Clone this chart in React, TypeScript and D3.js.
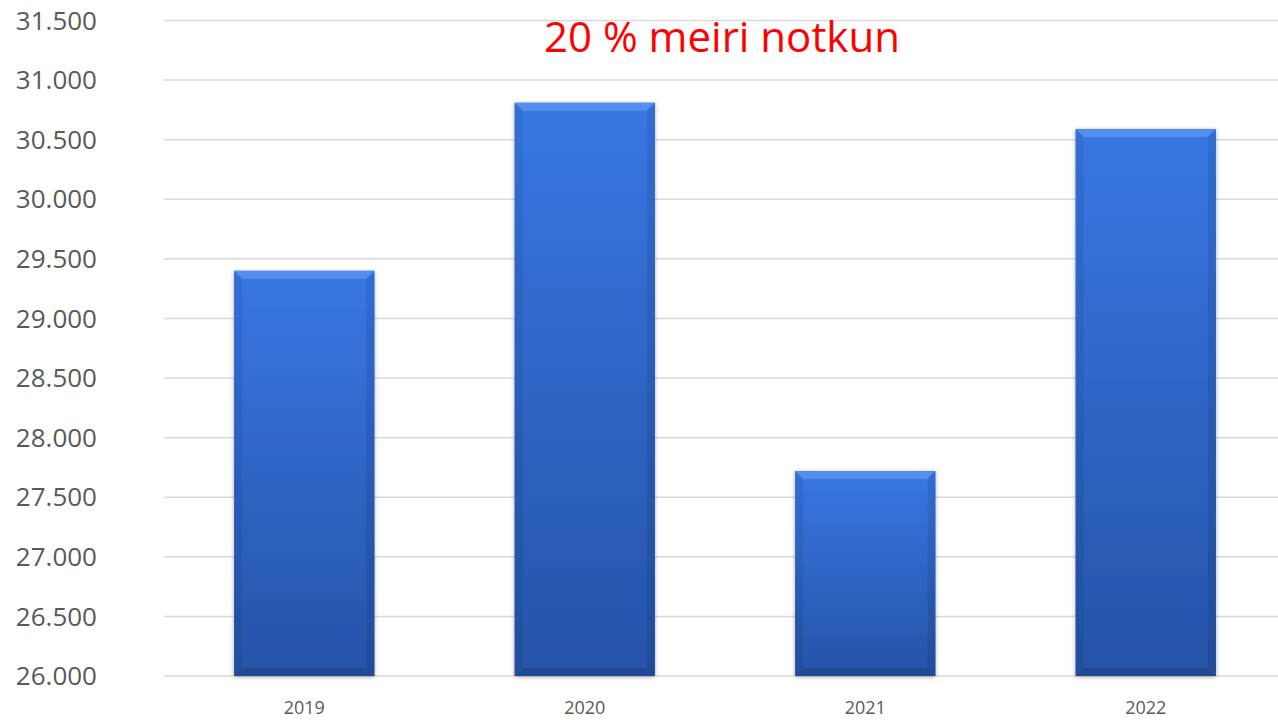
import React from "react";
import * as d3 from "d3";

const years = ["2019", "2020", "2021", "2022"];
const values = [29400, 30810, 27720, 30590];
const yTicks = [26000, 26500, 27000, 27500, 28000, 28500, 29000, 29500, 30000, 30500, 31000, 31500];
const title = "20 % meiri notkun";

const W = 1278;
const H = 720;

export default function App() {
  const x = d3.scaleBand<string>().domain(years).range([164, 1286]).paddingInner(0.5).paddingOuter(0.25);
  const y = d3.scaleLinear().domain([26000, 31500]).range([676, 20.5]);
  const fmt = (v: number) => d3.format(",")(v).replace(/,/g, ".");
  const bw = x.bandwidth();
  const bev = 8;
  return (
    <svg width={W} height={H} style={{ position: "absolute", left: 0, top: 0, background: "#fff" }}>
      <defs>
        <linearGradient id="barG" x1="0" y1="0" x2="0" y2="1">
          <stop offset="0%" stopColor="#3877e2" />
          <stop offset="100%" stopColor="#2553a8" />
        </linearGradient>
        <linearGradient id="sideL" x1="0" y1="0" x2="0" y2="1">
          <stop offset="0%" stopColor="#3068cc" />
          <stop offset="100%" stopColor="#1f4891" />
        </linearGradient>
        <filter id="sh" x="-10%" y="-10%" width="120%" height="120%">
          <feGaussianBlur in="SourceAlpha" stdDeviation="2" />
          <feOffset dx="0" dy="1" result="b" />
          <feComponentTransfer><feFuncA type="linear" slope="0.35" /></feComponentTransfer>
          <feMerge><feMergeNode /><feMergeNode in="SourceGraphic" /></feMerge>
        </filter>
      </defs>
      {yTicks.map((t) => (
        <g key={t}>
          <line x1={164} x2={W} y1={y(t)} y2={y(t)} stroke="#d9d9d9" strokeWidth={1.5} />
          <text x={97} y={y(t)} dy="0.35em" textAnchor="end" fontFamily="'Open Sans', sans-serif" fontSize={26} fill="#595959">
            {fmt(t)}
          </text>
        </g>
      ))}
      {years.map((yr, i) => {
        const x0 = x(yr)!;
        const x1 = x0 + bw;
        const top = y(values[i]);
        const bot = y(26000);
        return (
          <g key={yr}>
            <rect x={x0} y={top} width={bw} height={bot - top} fill="url(#barG)" filter="url(#sh)" />
            <polygon points={`${x0},${top} ${x1},${top} ${x1 - bev},${top + bev} ${x0 + bev},${top + bev}`} fill="#5a93ee" opacity={0.85} />
            <polygon points={`${x0},${top} ${x0 + bev},${top + bev} ${x0 + bev},${bot - bev} ${x0},${bot}`} fill="url(#sideL)" opacity={0.55} />
            <polygon points={`${x1},${top} ${x1 - bev},${top + bev} ${x1 - bev},${bot - bev} ${x1},${bot}`} fill="url(#sideL)" opacity={0.75} />
            <polygon points={`${x0},${bot} ${x0 + bev},${bot - bev} ${x1 - bev},${bot - bev} ${x1},${bot}`} fill="#1c4185" opacity={0.6} />
            <text x={x0 + bw / 2} y={708} textAnchor="middle" fontFamily="'Open Sans', sans-serif" fontSize={18} fill="#595959" dy="0.35em">
              {yr}
            </text>
          </g>
        );
      })}
      <text x={722} y={52} textAnchor="middle" fontFamily="'Open Sans', sans-serif" fontSize={42} fill="#ff0000">
        {title}
      </text>
    </svg>
  );
}
